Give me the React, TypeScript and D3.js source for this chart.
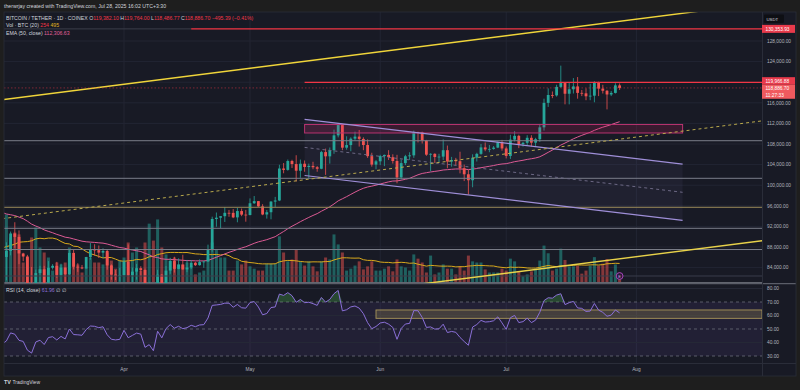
import { useRef, useEffect } from "react";
import * as d3 from "d3";

// daily candles from Feb 10 to Jul 28 2025 (the February part lies left of the visible pane)
const firstDay = "2025-02-10";

const opens = [
  96300, 97400, 95780, 97850, 96600, 97500, 97570, 96100, 95770, 95550, 96630, 98300, 96130, 96550, 96120, 91550, 88700, 84250, 84700,
  84350, 86060, 94250, 86066, 87222, 90624, 89961, 86743, 86154, 80734, 78595, 82932, 83680, 81067, 83969, 84344, 82580, 84010, 82716, 86854, 84167, 84043, 83832, 86054, 87498, 87392, 86909, 87232, 84424, 82648, 82389,
  82550, 85159, 82516, 83213, 83889, 83538, 78430, 79163, 76322, 82615, 79607, 83423, 85276, 83760, 84591, 83643, 84030, 84947, 84474, 85077, 85179, 87516, 93442, 93691, 93980, 94638, 94628, 93750, 94979, 94284,
  94207, 96492, 96910, 95891, 94315, 94749, 96817, 97033, 103241, 102970, 104697, 104106, 102812, 104170, 103539, 103744, 103489, 103191, 106430, 105606, 106792, 109679, 111674, 107287, 107791, 109035, 109440, 108985, 107802, 105641, 103998,
  104638, 105652, 105882, 105432, 104696, 101509, 104288, 105615, 105793, 110295, 110257, 108686, 105929, 106090, 105472, 105552, 106796, 104601, 104883, 104657, 103297, 102120, 100963, 105333, 106084, 107340, 106948, 107047, 107296, 108356,
  107135, 105681, 108850, 109584, 107984, 108231, 109203, 108262, 108922, 111233, 115987, 117516, 117435, 119086, 119841, 117758, 118630, 119177, 117924, 117840, 117265, 117380, 119954, 118755, 118340, 117614, 117919, 119382.1,
];
const highs = [
  98300, 98500, 98100, 97900, 98800, 97900, 97700, 97000, 96000, 96900, 98800, 99500, 96900, 96700, 96500, 92500, 89300, 87000, 85100,
  86500, 95000, 94429, 88911, 90998, 92810, 91224, 86876, 86471, 84123, 83617, 84359, 84336, 85263, 84672, 85117, 84756, 84028, 87453, 87443, 84850, 84513, 86094, 88765, 88539, 88292, 87756, 87515, 84624, 83534, 83943,
  85487, 88500, 83998, 84720, 84266, 83818, 81243, 80867, 83588, 82753, 84300, 85905, 86100, 85799, 86496, 85500, 85470, 85132, 85595, 85320, 88460, 93888, 94696, 94000, 95758, 95199, 95369, 95600, 95470, 95200,
  97437, 97895, 96943, 96318, 95199, 96920, 97732, 103969, 104304, 104984, 104937, 105819, 104976, 104799, 104192, 104550, 103709, 106660, 107108, 107320, 110797, 111980, 111800, 109500, 109300, 110400, 110718, 109300, 108900, 106300, 104900,
  105900, 105950, 106800, 105999, 105900, 105000, 105900, 106400, 110600, 110400, 110384, 108800, 106200, 106200, 106100, 108900, 107700, 105500, 105300, 106500, 104000, 103000, 106000, 106300, 108000, 108300, 107800, 107600, 108500, 108800,
  107500, 109800, 110500, 109800, 108400, 109700, 109700, 109200, 111900, 116800, 118800, 118200, 119500, 123218, 119900, 120000, 120800, 120998, 118500, 118800, 119700, 120200, 120100, 119500, 118500, 118300, 119800, 119764,
];
const lows = [
  95300, 94800, 94100, 95300, 96300, 97100, 96000, 95200, 93300, 95300, 96400, 94800, 95800, 95300, 91400, 86050, 82300, 82700, 78300,
  83900, 85000, 85081, 81529, 86379, 87852, 84667, 85248, 80000, 77459, 76606, 80667, 79939, 80797, 83639, 82017, 82457, 81134, 82600, 83647, 83175, 83675, 83794, 85541, 86310, 85858, 85837, 83585, 81644, 81565, 81279,
  82433, 82320, 81211, 81659, 82379, 77153, 74508, 76239, 74620, 78464, 78971, 82792, 83034, 83678, 83600, 83111, 83736, 84303, 84371, 83949, 85144, 87076, 91935, 91660, 92855, 93870, 93602, 92800, 93988, 92910,
  94153, 96350, 95800, 94172, 93514, 93377, 95782, 96910, 102316, 102818, 103346, 100719, 101429, 102614, 101383, 103100, 102612, 103105, 102000, 104192, 106100, 109285, 106800, 106900, 106600, 108700, 107500, 106800, 105300, 103600, 103100,
  103900, 103700, 104900, 104200, 100372, 101100, 103900, 104900, 105300, 108300, 108100, 105700, 102700, 104300, 104500, 104900, 103300, 103600, 103900, 102300, 100800, 98200, 99600, 104600, 105900, 106600, 106400, 106900, 107200, 106700,
  105200, 105100, 108500, 107200, 107500, 107800, 107500, 107400, 108400, 110600, 115200, 116900, 117200, 118900, 115700, 115700, 117800, 116800, 117300, 116500, 116500, 116100, 117300, 117800, 114723, 117300, 117800, 118486.77,
];
const closes = [
  97400, 95780, 97850, 96600, 97500, 97570, 96100, 95770, 95550, 96630, 98300, 96130, 96550, 96120, 91550, 88700, 84250, 84700, 84350,
  86060, 94250, 86066, 87222, 90624, 89961, 86743, 86154, 80734, 78595, 82932, 83680, 81067, 83969, 84344, 82580, 84010, 82716, 86854, 84167, 84043, 83832, 86054, 87498, 87392, 86909, 87232, 84424, 82648, 82389, 82550,
  85159, 82516, 83213, 83889, 83538, 78430, 79163, 76322, 82615, 79607, 83423, 85276, 83760, 84591, 83643, 84030, 84947, 84474, 85077, 85179, 87516, 93442, 93691, 93980, 94638, 94628, 93750, 94979, 94284, 94207,
  96492, 96910, 95891, 94315, 94749, 96817, 97033, 103241, 102970, 104697, 104106, 102812, 104170, 103539, 103744, 103489, 103191, 106430, 105606, 106792, 109679, 111674, 107287, 107791, 109035, 109440, 108985, 107802, 105641, 103998, 104638,
  105652, 105882, 105432, 104696, 101509, 104288, 105615, 105793, 110295, 110257, 108686, 105929, 106090, 105472, 105552, 106796, 104601, 104883, 104657, 103297, 102120, 100963, 105333, 106084, 107340, 106948, 107047, 107296, 108356, 107135,
  105681, 108850, 109584, 107984, 108231, 109203, 108262, 108922, 111233, 115987, 117516, 117435, 119086, 119841, 117758, 118630, 119177, 117924, 117840, 117265, 117380, 119954, 118755, 118340, 117614, 117919, 119382.09, 118886.7,
];
// volume in BTC
const volumes = [
  650, 730, 910, 650, 570, 260, 310, 520, 730, 470, 570, 1040, 310, 310, 1040, 1690, 1560, 1170, 1820,
  650, 1430, 1820, 1770, 1170, 1300, 1250, 520, 650, 1170, 1430, 910, 780, 650, 310, 520, 470, 520, 910, 650, 470, 260, 390, 650, 520, 520, 470, 780, 570, 360, 570,
  650, 1040, 780, 910, 310, 1040, 1530, 1090, 1640, 910, 730, 570, 650, 470, 470, 520, 420, 210, 260, 310, 650, 1040, 860, 650, 650, 310, 310, 570, 470, 570,
  420, 360, 310, 310, 490, 490, 490, 1200, 780, 550, 600, 860, 550, 440, 550, 420, 290, 550, 650, 600, 1250, 990, 780, 310, 360, 440, 550, 340, 420, 550, 310,
  310, 360, 420, 290, 600, 420, 390, 310, 730, 620, 520, 260, 700, 210, 260, 470, 360, 360, 210, 420, 310, 700, 550, 520, 520, 340, 260, 260, 260, 360,
  310, 620, 550, 290, 160, 210, 290, 360, 570, 960, 760, 310, 360, 880, 586, 420, 420, 440, 230, 310, 440, 660, 440, 490, 610, 290, 470, 254,
];
const emaSeed = 98000;

const priceTicks = [128000, 124000, 116000, 112000, 108000, 104000, 100000, 96000, 92000, 88000, 84000];
const gridPrices = [84000, 88000, 92000, 96000, 100000, 104000, 108000, 112000, 116000, 120000, 124000, 128000];
const rsiTicks = [80, 70, 60, 50, 40, 30];
const monthDays = ["2025-04-01", "2025-05-01", "2025-06-01", "2025-07-01", "2025-08-01"];
const monthLabels = ["Apr", "May", "Jun", "Jul", "Aug"];

// drawings
const levelPrices = [108640, 101340, 95710, 91630, 87510, 82370];
const trendTop = [["2025-03-03", 116600], ["2025-08-31", 135350]];
const trendDashed = [["2025-03-03", 93500], ["2025-08-31", 112500]];
const trendLow = [["2025-06-01", 79800], ["2025-08-31", 89230]];
const channelUpper = [["2025-05-14", 112800], ["2025-08-12", 104080]];
const channelLower = [["2025-05-14", 101880], ["2025-08-12", 93170]];
const zoneDays = ["2025-05-14", "2025-08-12"];
const zonePrices = [111790, 110140];
const resistanceFrom = ["2025-04-17", "2025-05-14"];
const resistancePrices = [130353.93, 119966.88];
const rsiZoneFrom = "2025-05-31";
const rsiZone = [64.1, 57.9];

const legendEma = "112,306.63";
const legendRsi = "61.96";
const countdown = "11:27:33";

const FONT = "Liberation Sans, Arial, sans-serif";

export default function App() {
  const ref = useRef<SVGSVGElement | null>(null);

  useEffect(() => {
    const svg = d3.select(ref.current);
    svg.selectAll("*").remove();

    const paneL = 4, paneR = 762, axisR = 796;
    const mainT = 12, mainB = 283, rsiT = 284.5, rsiB = 363.5, axisB = 376;

    const day0 = new Date(firstDay);
    const days = closes.map((_, i) => d3.utcDay.offset(day0, i));
    const idx = d3.range(closes.length);
    const last = closes.length - 1;

    const x = d3.scaleUtc().domain([new Date("2025-04-01"), new Date("2025-08-01")]).range([124, 636.4]);
    const y = d3.scaleLinear().domain([84000, 128000]).range([267.6, 41]);
    const yVol = d3.scaleLinear().domain([0, 2600]).range([282.5, 182.5]);
    const yRsi = d3.scaleLinear().domain([30, 80]).range([356, 288.5]);
    const xd = (s: string) => x(new Date(s));

    // indicators
    const k = 2 / 51;
    let e = emaSeed;
    const ema = closes.map((c) => (e = c * k + e * (1 - k)));
    const volMa = volumes.map((_, i) => (i < 19 ? null : d3.mean(volumes.slice(i - 19, i + 1))));
    const rsi: (number | null)[] = [];
    let ag = 0, al = 0;
    closes.forEach((c, i) => {
      if (i === 0) { rsi.push(null); return; }
      const ch = c - closes[i - 1];
      const g = Math.max(ch, 0), l = Math.max(-ch, 0);
      if (i <= 14) {
        ag += g / 14; al += l / 14;
        rsi.push(i === 14 ? 100 - 100 / (1 + ag / al) : null);
        return;
      }
      ag = (ag * 13 + g) / 14; al = (al * 13 + l) / 14;
      rsi.push(al === 0 ? 100 : 100 - 100 / (1 + ag / al));
    });

    // frame + backgrounds
    svg.append("rect").attr("width", 800).attr("height", 390).attr("fill", "#1e1e1e");
    svg.append("rect").attr("x", paneL).attr("y", mainT).attr("width", axisR - paneL).attr("height", axisB - mainT).attr("fill", "#181a25");

    const defs = svg.append("defs");
    defs.append("clipPath").attr("id", "mainClip").append("rect")
      .attr("x", paneL).attr("y", mainT).attr("width", paneR - paneL).attr("height", mainB - mainT);
    defs.append("clipPath").attr("id", "rsiClip").append("rect")
      .attr("x", paneL).attr("y", rsiT).attr("width", paneR - paneL).attr("height", rsiB - rsiT);

    const main = svg.append("g").attr("clip-path", "url(#mainClip)");
    const rp = svg.append("g").attr("clip-path", "url(#rsiClip)");

    // grid
    main.selectAll(".hg").data(gridPrices).join("line")
      .attr("x1", paneL).attr("x2", paneR).attr("y1", (d) => y(d)).attr("y2", (d) => y(d))
      .attr("stroke", "#222533").attr("stroke-width", 1);
    [main, rp].forEach((g) => {
      g.selectAll(".vg").data(monthDays).join("line")
        .attr("x1", (d) => xd(d)).attr("x2", (d) => xd(d)).attr("y1", mainT).attr("y2", rsiB)
        .attr("stroke", "#222533").attr("stroke-width", 1);
    });

    // parallel channel fill
    const pt = (p: any[]) => [xd(p[0]), y(p[1])];
    const cu = channelUpper.map(pt), cl = channelLower.map(pt);
    main.append("polygon")
      .attr("points", [cu[0], cu[1], cl[1], cl[0]].map((p) => p.join(",")).join(" "))
      .attr("fill", "rgba(140,130,200,0.07)");

    // volume
    main.selectAll(".vol").data(idx).join("rect")
      .attr("x", (i) => x(days[i]) - 1.5).attr("width", 3)
      .attr("y", (i) => yVol(volumes[i])).attr("height", (i) => yVol(0) - yVol(volumes[i]))
      .attr("fill", (i) => (closes[i] >= opens[i] ? "rgba(38,166,154,0.5)" : "rgba(239,83,80,0.5)"));

    main.append("path")
      .attr("d", d3.line<number>().defined((i) => volMa[i] != null).x((i) => x(days[i])).y((i) => yVol(volMa[i] as number))(idx))
      .attr("fill", "none").attr("stroke", "#d9a91c").attr("stroke-width", 1);

    main.append("line").attr("x1", paneL).attr("x2", paneR).attr("y1", 282.6).attr("y2", 282.6)
      .attr("stroke", "#6b6e78").attr("stroke-width", 1);

    // EMA 50
    main.append("path")
      .attr("d", d3.line<number>().x((i) => x(days[i])).y((i) => y(ema[i]))(idx))
      .attr("fill", "none").attr("stroke", "#dc5a94").attr("stroke-width", 1);

    // candles
    const cg = main.append("g");
    cg.selectAll(".wick").data(idx).join("line")
      .attr("x1", (i) => x(days[i])).attr("x2", (i) => x(days[i]))
      .attr("y1", (i) => y(highs[i])).attr("y2", (i) => y(lows[i]))
      .attr("stroke", (i) => (closes[i] >= opens[i] ? "#26a69a" : "#ef5350")).attr("stroke-width", 0.8);
    cg.selectAll(".body").data(idx).join("rect")
      .attr("x", (i) => x(days[i]) - 1.4).attr("width", 2.8)
      .attr("y", (i) => y(Math.max(opens[i], closes[i])))
      .attr("height", (i) => Math.max(0.8, Math.abs(y(opens[i]) - y(closes[i]))))
      .attr("fill", (i) => (closes[i] >= opens[i] ? "#26a69a" : "#ef5350"));

    // horizontal levels
    const levelStroke = ["#7b7e8a", "#7b7e8a", "#9b8a58", "#7b7e8a", "#7b7e8a", "#3a3d4a"];
    main.selectAll(".lvl").data(levelPrices).join("line")
      .attr("x1", paneL).attr("x2", paneR).attr("y1", (d) => y(d)).attr("y2", (d) => y(d))
      .attr("stroke", (_, i) => levelStroke[i]).attr("stroke-width", 1);

    // zone rectangle
    main.append("rect")
      .attr("x", xd(zoneDays[0])).attr("width", xd(zoneDays[1]) - xd(zoneDays[0]))
      .attr("y", y(zonePrices[0])).attr("height", y(zonePrices[1]) - y(zonePrices[0]))
      .attr("fill", "rgba(233,30,99,0.16)").attr("stroke", "#b8336f").attr("stroke-width", 1);

    // channel lines
    const seg = (g: any, a: number[], b: number[], stroke: string, w: number, dash?: string) =>
      g.append("line").attr("x1", a[0]).attr("y1", a[1]).attr("x2", b[0]).attr("y2", b[1])
        .attr("stroke", stroke).attr("stroke-width", w).attr("stroke-dasharray", dash || null);
    seg(main, cu[0], cu[1], "#9f8fd8", 1.2);
    seg(main, cl[0], cl[1], "#9f8fd8", 1.2);
    seg(main, [(cu[0][0] + cl[0][0]) / 2, (cu[0][1] + cl[0][1]) / 2], [(cu[1][0] + cl[1][0]) / 2, (cu[1][1] + cl[1][1]) / 2], "#6c6884", 1, "3,3");

    // trend lines
    const td = trendDashed.map(pt), tt = trendTop.map(pt), tl = trendLow.map(pt);
    seg(main, td[0], td[1], "#b9a94c", 1, "3,3");
    seg(main, tt[0], tt[1], "#f0d53a", 1.4);
    seg(main, tl[0], tl[1], "#e8d24a", 1.4);

    // resistance rays
    main.append("line").attr("x1", paneL).attr("x2", xd(resistanceFrom[0]))
      .attr("y1", y(resistancePrices[0])).attr("y2", y(resistancePrices[0]))
      .attr("stroke", "#3a3d48").attr("stroke-width", 1);
    main.selectAll(".res").data(resistancePrices).join("line")
      .attr("x1", (_, i) => xd(resistanceFrom[i])).attr("x2", paneR)
      .attr("y1", (d) => y(d)).attr("y2", (d) => y(d))
      .attr("stroke", "#f23645").attr("stroke-width", 1.4);

    // last price line
    main.append("line").attr("x1", paneL).attr("x2", paneR)
      .attr("y1", y(closes[last])).attr("y2", y(closes[last]))
      .attr("stroke", "#f23645").attr("stroke-opacity", 0.6).attr("stroke-width", 0.8).attr("stroke-dasharray", "1.5,2");

    // marker icon under the last bar
    main.append("circle").attr("cx", x(days[last])).attr("cy", mainB - 7).attr("r", 3.4)
      .attr("fill", "#2b1836").attr("stroke", "#b04ac6").attr("stroke-width", 0.9);
    main.append("text").attr("x", x(days[last])).attr("y", mainB - 5.4).attr("text-anchor", "middle")
      .attr("font-size", 4).attr("font-family", FONT).attr("fill", "#d7a6e6").text("E");

    // ---- RSI pane
    rp.append("rect").attr("x", paneL).attr("width", paneR - paneL)
      .attr("y", yRsi(70)).attr("height", yRsi(30) - yRsi(70)).attr("fill", "rgba(126,87,194,0.1)");
    rp.selectAll(".rg").data([80, 60, 40]).join("line")
      .attr("x1", paneL).attr("x2", paneR).attr("y1", (d) => yRsi(d)).attr("y2", (d) => yRsi(d))
      .attr("stroke", "#252836");
    rp.selectAll(".rb").data([70, 50, 30]).join("line")
      .attr("x1", paneL).attr("x2", paneR).attr("y1", (d) => yRsi(d)).attr("y2", (d) => yRsi(d))
      .attr("stroke", "#6a6d78").attr("stroke-dasharray", "3,3").attr("stroke-width", 0.8);

    rp.append("path")
      .attr("d", d3.area<number>().defined((i) => rsi[i] != null).x((i) => x(days[i]))
        .y0(yRsi(70)).y1((i) => yRsi(Math.max(70, rsi[i] as number)))(idx))
      .attr("fill", "rgba(76,175,80,0.3)");

    rp.append("rect")
      .attr("x", xd(rsiZoneFrom)).attr("width", paneR - xd(rsiZoneFrom))
      .attr("y", yRsi(rsiZone[0])).attr("height", yRsi(rsiZone[1]) - yRsi(rsiZone[0]))
      .attr("fill", "rgba(190,170,90,0.22)").attr("stroke", "#a8965a").attr("stroke-width", 0.9);

    rp.append("path")
      .attr("d", d3.line<number>().defined((i) => rsi[i] != null).x((i) => x(days[i])).y((i) => yRsi(rsi[i] as number))(idx))
      .attr("fill", "none").attr("stroke", "#8b70d8").attr("stroke-width", 1);

    // pane borders
    svg.append("line").attr("x1", paneL).attr("x2", axisR).attr("y1", 283.6).attr("y2", 283.6)
      .attr("stroke", "#5a5d68").attr("stroke-width", 1.4);
    svg.append("line").attr("x1", paneL).attr("x2", axisR).attr("y1", rsiB).attr("y2", rsiB).attr("stroke", "#2a2d39");
    svg.append("line").attr("x1", paneR + 0.5).attr("x2", paneR + 0.5).attr("y1", mainT).attr("y2", axisB).attr("stroke", "#2a2d39");
    svg.append("rect").attr("x", paneL).attr("y", mainT).attr("width", axisR - paneL).attr("height", axisB - mainT)
      .attr("fill", "none").attr("stroke", "#2a2d39").attr("stroke-width", 0.8);

    // price axis
    const txt = (xx: number, yy: number, s: string, fill: string, size = 4.8, anchor = "start") =>
      svg.append("text").attr("x", xx).attr("y", yy).attr("font-size", size).attr("font-family", FONT)
        .attr("fill", fill).attr("text-anchor", anchor).text(s);
    const fmt = d3.format(",.2f");
    priceTicks.forEach((t) => txt(767, y(t) + 1.7, fmt(t), "#b2b5be"));
    rsiTicks.forEach((t) => txt(767, yRsi(t) + 1.7, fmt(t), "#b2b5be"));

    svg.append("rect").attr("x", 764).attr("y", 14.5).attr("width", 20).attr("height", 8.5).attr("fill", "#0e0f14").attr("rx", 1);
    txt(766.5, 20.6, "USDT", "#d1d4dc", 4.3);

    const yr0 = y(resistancePrices[0]);
    svg.append("rect").attr("x", paneR).attr("y", yr0 - 4).attr("width", axisR - paneR - 1).attr("height", 8).attr("fill", "#e83a4b");
    txt(765.5, yr0 + 1.7, fmt(resistancePrices[0]), "#ffffff");

    const yr1 = y(resistancePrices[1]) - 1.2;
    svg.append("rect").attr("x", paneR).attr("y", yr1 - 4).attr("width", axisR - paneR - 1).attr("height", 7.6).attr("fill", "#e83a4b");
    txt(765.5, yr1 + 1.7, fmt(resistancePrices[1]), "#ffffff");
    svg.append("rect").attr("x", paneR).attr("y", yr1 + 3.6).attr("width", axisR - paneR - 1).attr("height", 14).attr("fill", "#f05a5e");
    txt(765.5, yr1 + 9.2, fmt(closes[last]), "#ffffff");
    txt(765.5, yr1 + 15.6, countdown, "#ffffff");

    // time axis
    monthDays.forEach((d, i) => txt(xd(d), 371, monthLabels[i], "#b2b5be", 4.8, "middle"));

    // header and legends
    txt(4, 7.5, "therwrjay created with TradingView.com, Jul 28, 2025 16:02 UTC+3:30", "#d1d4dc", 5.2);

    const red = "#f23645", grey = "#d1d4dc";
    const chg = closes[last] - closes[last - 1];
    const legendSize = 5.2;
    const l1 = svg.append("text").attr("x", 6).attr("y", 19.5).attr("font-size", legendSize).attr("font-family", FONT);
    const parts1: [string, string][] = [
      ["BITCOIN / TETHER · 1D · COINEX  ", grey],
      ["O", grey], [fmt(opens[last]) + " ", red],
      ["H", grey], [fmt(highs[last]) + " ", red],
      ["L", grey], [fmt(lows[last]) + " ", red],
      ["C", grey], [fmt(closes[last]) + " ", red],
      [d3.format(",.2f")(chg).replace("-", "−") + " (" + d3.format(".2%")(chg / closes[last - 1]).replace("-", "−") + ")", red],
    ];
    parts1.forEach(([s, c]) => l1.append("tspan").attr("fill", c).text(s));

    const l2 = svg.append("text").attr("x", 6).attr("y", 27).attr("font-size", legendSize).attr("font-family", FONT);
    l2.append("tspan").attr("fill", grey).text("Vol · BTC (20)  ");
    l2.append("tspan").attr("fill", red).text(d3.format(".0f")(volumes[last]) + "  ");
    l2.append("tspan").attr("fill", "#e0b31f").text(d3.format(".0f")(volMa[last] as number));

    const l3 = svg.append("text").attr("x", 6).attr("y", 34.5).attr("font-size", legendSize).attr("font-family", FONT);
    l3.append("tspan").attr("fill", grey).text("EMA (50, close)  ");
    l3.append("tspan").attr("fill", "#e0609a").text(legendEma);

    const l4 = svg.append("text").attr("x", 6).attr("y", 291.5).attr("font-size", legendSize).attr("font-family", FONT);
    l4.append("tspan").attr("fill", grey).text("RSI (14, close)  ");
    l4.append("tspan").attr("fill", "#8b70d8").text(legendRsi + "  ");
    l4.append("tspan").attr("fill", grey).text("∅  ∅");

    // footer logo
    txt(4, 384, "TV", "#d1d4dc", 5.4).attr("font-weight", "bold");
    txt(12.5, 384, "TradingView", "#d1d4dc", 5);
  }, []);

  return (
    <div style={{ position: "absolute", left: 0, top: 0 }}>
      <svg ref={ref} width={800} height={390} style={{ display: "block" }} />
    </div>
  );
}
